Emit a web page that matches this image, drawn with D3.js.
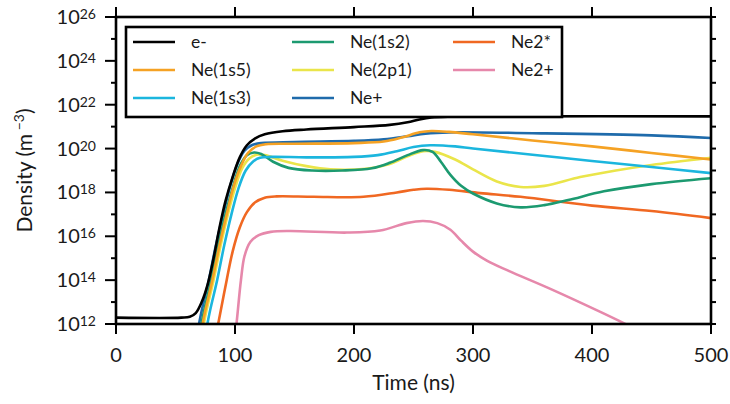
<!DOCTYPE html>
<html>
<head>
<meta charset="utf-8">
<script src="https://cdn.jsdelivr.net/npm/d3@7"></script>
<style>
  body { margin: 0; background: #fff; }
  svg { font-family: Lato, "Open Sans", sans-serif; }
</style>
</head>
<body>
<div id="chart"></div>
<script>
// chart size and plot area
const width = 730;
const height = 404;
const margin = { top: 17, right: 19, bottom: 80, left: 116 };
const innerW = width - margin.left - margin.right;
const innerH = height - margin.top - margin.bottom;

// series names, in legend order (3 columns)
const seriesNames = ["e-", "Ne(1s5)", "Ne(1s3)", "Ne(1s2)", "Ne(2p1)", "Ne+", "Ne2*", "Ne2+"];
const seriesColors = ["#000000", "#f5a224", "#1bb6de", "#1c9a70", "#eae54a", "#1f6bab", "#f06822", "#e688ab"];

// [time (ns), log10 density (m^-3)]
const eMinus = [[0, 12.29], [55, 12.29], [62, 12.33], [67, 12.5], [72, 13.0], [77, 13.8], [82, 15.0], [87, 16.4],
  [92, 17.6], [98, 18.7], [104, 19.6], [110, 20.15], [117, 20.47], [125, 20.65], [140, 20.79], [160, 20.87],
  [200, 20.98], [230, 21.08], [245, 21.2], [255, 21.33], [265, 21.42], [280, 21.46], [320, 21.47], [500, 21.47]];
const ne1s5 = [[71, 11.5], [75, 12.6], [81, 14.0], [87, 15.6], [93, 17.0], [99, 18.3], [105, 19.2], [111, 19.8],
  [118, 20.1], [126, 20.2], [150, 20.22], [200, 20.25], [225, 20.32], [240, 20.5], [255, 20.74], [265, 20.8],
  [280, 20.76], [300, 20.65], [350, 20.37], [400, 20.1], [450, 19.8], [500, 19.5]];
const ne1s3 = [[75, 11.5], [79, 12.6], [85, 14.0], [91, 15.6], [97, 17.0], [103, 18.2], [109, 19.0], [115, 19.4],
  [121, 19.58], [130, 19.62], [160, 19.6], [200, 19.62], [220, 19.7], [236, 19.88], [250, 20.07], [264, 20.15],
  [285, 20.1], [300, 20.0], [350, 19.72], [400, 19.43], [450, 19.16], [500, 18.88]];
const ne1s2 = [[70, 11.5], [74, 12.6], [80, 14.0], [86, 15.6], [92, 17.0], [98, 18.2], [104, 19.2], [110, 19.7],
  [116, 19.82], [122, 19.75], [132, 19.4], [145, 19.12], [165, 19.0], [190, 19.0], [215, 19.1], [230, 19.35],
  [245, 19.7], [258, 19.93], [266, 19.85], [273, 19.4], [281, 18.8], [290, 18.3], [300, 17.95], [320, 17.5],
  [340, 17.32], [360, 17.42], [380, 17.65], [410, 18.05], [450, 18.38], [500, 18.65]];
const ne2p1 = [[72, 11.5], [76, 12.6], [82, 14.0], [88, 15.6], [94, 17.0], [100, 18.2], [106, 19.1], [112, 19.55],
  [118, 19.72], [125, 19.7], [140, 19.45], [160, 19.2], [180, 19.05], [210, 19.08], [230, 19.3], [245, 19.65],
  [258, 19.88], [268, 19.85], [285, 19.5], [300, 19.05], [320, 18.5], [340, 18.25], [360, 18.3], [390, 18.7],
  [420, 19.0], [450, 19.25], [500, 19.58]];
const nePlus = [[68, 11.5], [72, 12.6], [78, 14.0], [84, 15.6], [90, 17.0], [96, 18.3], [102, 19.3], [108, 19.9],
  [114, 20.15], [122, 20.25], [150, 20.3], [200, 20.35], [225, 20.42], [245, 20.56], [260, 20.68], [280, 20.74],
  [350, 20.7], [450, 20.6], [500, 20.48]];
const ne2Star = [[84, 11.5], [88, 12.6], [93, 14.0], [98, 15.3], [104, 16.4], [110, 17.1], [117, 17.55], [125, 17.76],
  [135, 17.82], [166, 17.8], [208, 17.8], [236, 18.0], [250, 18.12], [261, 18.17], [280, 18.12], [306, 17.97],
  [340, 17.8], [400, 17.4], [450, 17.15], [500, 16.83]];
const ne2Plus = [[100.5, 11.6], [102, 12.4], [105, 14.0], [108, 15.1], [113, 15.75], [120, 16.05], [130, 16.2],
  [146, 16.24], [194, 16.17], [222, 16.26], [244, 16.6], [258, 16.7], [270, 16.6], [281, 16.3], [290, 15.8],
  [300, 15.3], [312, 14.88], [330, 14.42], [365, 13.6], [407, 12.55], [430, 11.95]];

const seriesData = [eMinus, ne1s5, ne1s3, ne1s2, ne2p1, nePlus, ne2Star, ne2Plus];

// tick values
const xTicks = [0, 100, 200, 300, 400, 500];
const yMajorExp = [12, 14, 16, 18, 20, 22, 24, 26];
const yAllExp = d3.range(12, 27);

const svg = d3.select("#chart")
  .append("svg")
  .attr("width", width)
  .attr("height", height);

const g = svg.append("g")
  .attr("transform", "translate(" + margin.left + "," + margin.top + ")");

const x = d3.scaleLinear().domain([0, 500]).range([0, innerW]);
const y = d3.scaleLog().domain([1e12, 1e26]).range([innerH, 0]);

g.append("clipPath").attr("id", "clip")
  .append("rect").attr("width", innerW).attr("height", innerH);

const line = d3.line()
  .x(d => x(d[0]))
  .y(d => y(Math.pow(10, d[1])))
  .curve(d3.curveCatmullRom.alpha(0.5));

// data lines, drawn in reverse so e- sits on top
const lines = g.append("g").attr("clip-path", "url(#clip)");
seriesData.slice().reverse().forEach((d, i) => {
  const k = seriesData.length - 1 - i;
  lines.append("path")
    .datum(d)
    .attr("d", line)
    .attr("fill", "none")
    .attr("stroke", seriesColors[k])
    .attr("stroke-width", 2.6);
});

// ticks on all four sides
const tickStyle = sel => sel.attr("stroke", "#000").attr("stroke-width", 2);

g.selectAll(".xb").data(xTicks).enter().append("line")
  .attr("x1", d => x(d)).attr("x2", d => x(d))
  .attr("y1", innerH).attr("y2", innerH + 10).call(tickStyle);
g.selectAll(".xt").data(xTicks).enter().append("line")
  .attr("x1", d => x(d)).attr("x2", d => x(d))
  .attr("y1", 0).attr("y2", -10).call(tickStyle);
g.selectAll(".yl").data(yAllExp).enter().append("line")
  .attr("x1", d => d % 2 === 0 ? -11 : -5).attr("x2", 0)
  .attr("y1", d => y(Math.pow(10, d))).attr("y2", d => y(Math.pow(10, d))).call(tickStyle);
g.selectAll(".yr").data(yAllExp).enter().append("line")
  .attr("x1", innerW).attr("x2", innerW + 5)
  .attr("y1", d => y(Math.pow(10, d))).attr("y2", d => y(Math.pow(10, d))).call(tickStyle);

// frame
g.append("rect")
  .attr("width", innerW).attr("height", innerH)
  .attr("fill", "none").attr("stroke", "#000").attr("stroke-width", 2.6);

// x tick labels
g.selectAll(".xl").data(xTicks).enter().append("text")
  .attr("x", d => x(d)).attr("y", innerH + 38)
  .attr("text-anchor", "middle")
  .style("font-size", "20px")
  .style("fill", "#1a1a1a")
  .text(d => d);

// y tick labels as 10^n
const yl = g.selectAll(".ylab").data(yMajorExp).enter().append("text")
  .attr("x", -20).attr("y", d => y(Math.pow(10, d)) + 7)
  .attr("text-anchor", "end")
  .style("font-size", "20px")
  .style("fill", "#1a1a1a");
yl.append("tspan").text("10");
yl.append("tspan").attr("dy", -5).style("font-size", "14px").text(d => d);

// axis titles
svg.append("text")
  .attr("x", margin.left + innerW / 2).attr("y", 390)
  .attr("text-anchor", "middle")
  .style("font-size", "21px")
  .style("fill", "#1a1a1a")
  .text("Time (ns)");

const yt = svg.append("text")
  .attr("transform", "translate(32," + (margin.top + innerH / 2) + ") rotate(-90)")
  .attr("text-anchor", "middle")
  .style("font-size", "21px")
  .style("fill", "#1a1a1a");
yt.append("tspan").text("Density (m");
yt.append("tspan").attr("dy", -8).style("font-size", "14px").text(" \u22123");
yt.append("tspan").attr("dy", 8).text(")");

// legend
const legend = svg.append("g");
legend.append("rect")
  .attr("x", 126).attr("y", 27).attr("width", 436).attr("height", 90)
  .attr("fill", "#fff").attr("stroke", "#000").attr("stroke-width", 2.6);

const colX = [133, 292, 453];
const rowY = [42, 70, 98];
seriesNames.forEach((name, i) => {
  const cx = colX[Math.floor(i / 3)];
  const cy = rowY[i % 3];
  legend.append("line")
    .attr("x1", cx).attr("x2", cx + 42)
    .attr("y1", cy).attr("y2", cy)
    .attr("stroke", seriesColors[i]).attr("stroke-width", 2.6);
  legend.append("text")
    .attr("x", cx + 58).attr("y", cy + 6)
    .style("font-size", "17.5px")
    .style("fill", "#1a1a1a")
    .text(name);
});
</script>
</body>
</html>
